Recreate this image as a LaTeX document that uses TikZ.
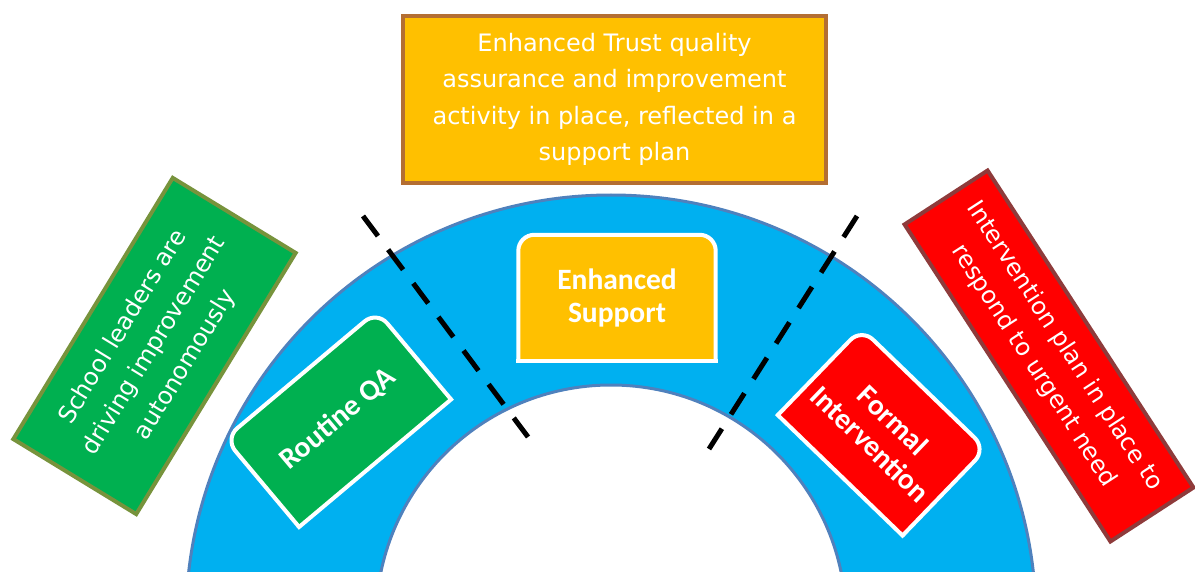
\documentclass[tikz,border=0pt]{standalone}
\usepackage{fontspec}
\setmainfont{DejaVu Sans}
\newfontfamily\stagefont{Carlito}

\pgfdeclarelayer{front}
\pgfsetlayers{main,front}

\definecolor{ringblue}{HTML}{00B0F0}
\definecolor{ringedge}{HTML}{4F81BD}
\definecolor{amber}{HTML}{FFC000}
\definecolor{amberedge}{HTML}{B46E32}
\definecolor{leafgreen}{HTML}{00B050}
\definecolor{oliveedge}{HTML}{77933C}
\definecolor{alertred}{HTML}{FF0000}
\definecolor{maroonedge}{HTML}{8E3B3B}

\tikzset{
  outcome/.style={draw, line width=4pt, text=white, align=center, inner sep=0pt,
    font=\fontsize{24}{36.5}\selectfont},
  stage/.style={text=white, align=center, inner sep=0pt,
    font=\stagefont\bfseries\fontsize{29.5}{33}\selectfont},
  tab/.style={draw=white, line width=4pt, rounded corners=16pt},
  tabbase/.style={draw=white, line width=4pt, line cap=rect},
  cut/.style={line width=5pt, dash pattern=on 25pt off 17pt},
}

\begin{document}
\begin{tikzpicture}[x=1pt, y=-1pt]
    \useasboundingbox (0,0) rectangle (1195,572);
    % the arch
    \begin{scope}
        \clip (0,0) rectangle (1195,572);
        \fill [ringblue, even odd rule] (611,620) circle [radius=425] (611,620) circle [radius=235];
        \draw [ringedge, line width=3pt] (611,620) circle [radius=425] (611,620) circle [radius=235];
    \end{scope}
    \draw [cut] (363,216) -- (528,437);
    \draw [cut] (857,216) -- (709,449);

    \begin{pgfonlayer}{front}
        \node [stage, minimum width=197pt, minimum height=126pt] (support) at (617,298) {Enhanced\\Support};
        \node [stage, minimum width=198pt, minimum height=115pt, rotate=40] (routine) at (338,419) {Routine QA};
        \node [stage, minimum width=173pt, minimum height=120pt, rotate=-44] (formal) at (882,432) {Formal\\Intervention};
    \end{pgfonlayer}
    \foreach \stage/\shade in {support/amber, routine/leafgreen, formal/alertred} {
        \filldraw [tab, fill=\shade] (\stage.south west) -- (\stage.north west) -- (\stage.north east) -- (\stage.south east);
        \draw [tabbase] (\stage.south west) -- (\stage.south east);
    }

    \node [outcome, fill=amber, draw=amberedge, minimum width=423pt, minimum height=167pt] (trust) at (614.5,99.5)
        {Enhanced Trust quality\\assurance and improvement\\activity in place, reflected in a\\support plan};
    \node [outcome, fill=leafgreen, draw=oliveedge, minimum width=306pt, minimum height=144pt, rotate=58.6] (autonomy) at (154.5,346)
        {School leaders are\\driving improvement\\autonomously};
    \node [outcome, fill=alertred, draw=maroonedge, minimum width=378pt, minimum height=99pt, rotate=-57] (urgent) at (1049,356)
        {Intervention plan in place to\\respond to urgent need};
\end{tikzpicture}
\end{document}
